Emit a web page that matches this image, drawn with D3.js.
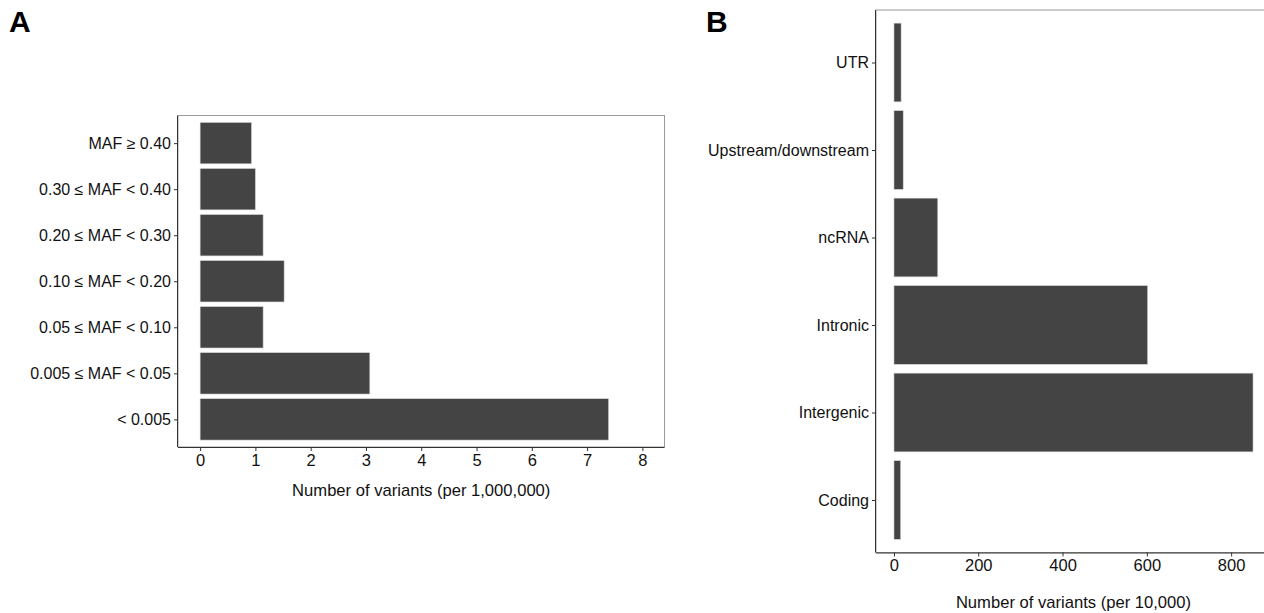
<!DOCTYPE html>
<html>
<head>
<meta charset="utf-8">
<script src="https://cdn.jsdelivr.net/npm/d3@7"></script>
<style>
  body { margin: 0; background: #fff; }
  svg { display: block; font-family: "Liberation Sans", Arial, Helvetica, sans-serif; }
  .tick text { fill: #111; }
</style>
</head>
<body>
<svg id="fig" width="1264" height="613"></svg>
<script>
// panel A: MAF bins
const mafBins = [
  "MAF \u2265 0.40",
  "0.30 \u2264 MAF < 0.40",
  "0.20 \u2264 MAF < 0.30",
  "0.10 \u2264 MAF < 0.20",
  "0.05 \u2264 MAF < 0.10",
  "0.005 \u2264 MAF < 0.05",
  "< 0.005",
];
const mafValues = [0.93, 1.0, 1.14, 1.52, 1.14, 3.07, 7.39];
const mafTicks = [0, 1, 2, 3, 4, 5, 6, 7, 8];

// panel B: annotation classes
const annoClasses = ["UTR", "Upstream/downstream", "ncRNA", "Intronic", "Intergenic", "Coding"];
const annoValues = [17, 22, 104, 602, 852, 16];
const annoTicks = [0, 200, 400, 600, 800];

const svg = d3.select("#fig");

const drawPanel = (opts) => {
  const { cats, vals, ticks, xDomain, left, right, top, bottom, title, titleY, tag, tagX } = opts;

  const x = d3.scaleLinear().domain(xDomain).range([left, right]);
  // ggplot style discrete axis: 0.6 band expansion on each side
  const step = (bottom - top) / (cats.length - 1 + 1.2);
  const y = d3
    .scalePoint()
    .domain(cats)
    .range([top + 0.6 * step, bottom - 0.6 * step]);
  const barH = step * 0.9;

  const g = svg.append("g");

  g.append("rect")
    .attr("x", left)
    .attr("y", top)
    .attr("width", right - left)
    .attr("height", bottom - top)
    .attr("fill", "none")
    .attr("stroke", "#9a9a9a")
    .attr("stroke-width", 1);

  g.selectAll(".bar")
    .data(cats)
    .enter()
    .append("rect")
    .attr("class", "bar")
    .attr("x", x(0))
    .attr("y", (d) => y(d) - barH / 2)
    .attr("width", (d, i) => x(vals[i]) - x(0))
    .attr("height", barH)
    .attr("fill", "#444444")
    .attr("stroke", "#d8d8d8")
    .attr("stroke-width", 0.6);

  const xAxis = g
    .append("g")
    .attr("transform", `translate(0,${bottom})`)
    .call(d3.axisBottom(x).tickValues(ticks).tickSize(4).tickPadding(3).tickFormat(d3.format("d")));
  xAxis.select(".domain").attr("stroke", "#333").attr("d", `M${left},0.5H${right}`);
  xAxis.selectAll(".tick line").attr("stroke", "#333");
  xAxis.selectAll(".tick text").style("font-size", "16.5px");

  const yAxis = g
    .append("g")
    .attr("transform", `translate(${left},0)`)
    .call(d3.axisLeft(y).tickSize(4).tickPadding(3));
  yAxis.select(".domain").attr("stroke", "#333").attr("d", `M-0.5,${top}V${bottom}`);
  yAxis.selectAll(".tick line").attr("stroke", "#333");
  yAxis.selectAll(".tick text").style("font-size", "16px");

  g.append("text")
    .attr("x", (left + right) / 2)
    .attr("y", titleY)
    .attr("text-anchor", "middle")
    .attr("dominant-baseline", "middle")
    .style("font-size", "16.6px")
    .attr("fill", "#111")
    .text(title);

  svg.append("text")
    .attr("x", tagX)
    .attr("y", 32)
    .style("font-size", "30px")
    .style("font-weight", "bold")
    .attr("fill", "#000")
    .text(tag);
};

drawPanel({
  cats: mafBins,
  vals: mafValues,
  ticks: mafTicks,
  xDomain: [-0.4, 8.4],
  left: 178,
  right: 664.5,
  top: 115.5,
  bottom: 447,
  title: "Number of variants (per 1,000,000)",
  titleY: 492,
  tag: "A",
  tagX: 9,
});

drawPanel({
  cats: annoClasses,
  vals: annoValues,
  ticks: annoTicks,
  xDomain: [-42.6, 894.6],
  left: 876,
  right: 1271,
  top: 10,
  bottom: 552.5,
  title: "Number of variants (per 10,000)",
  titleY: 604,
  tag: "B",
  tagX: 706,
});
</script>
</body>
</html>
